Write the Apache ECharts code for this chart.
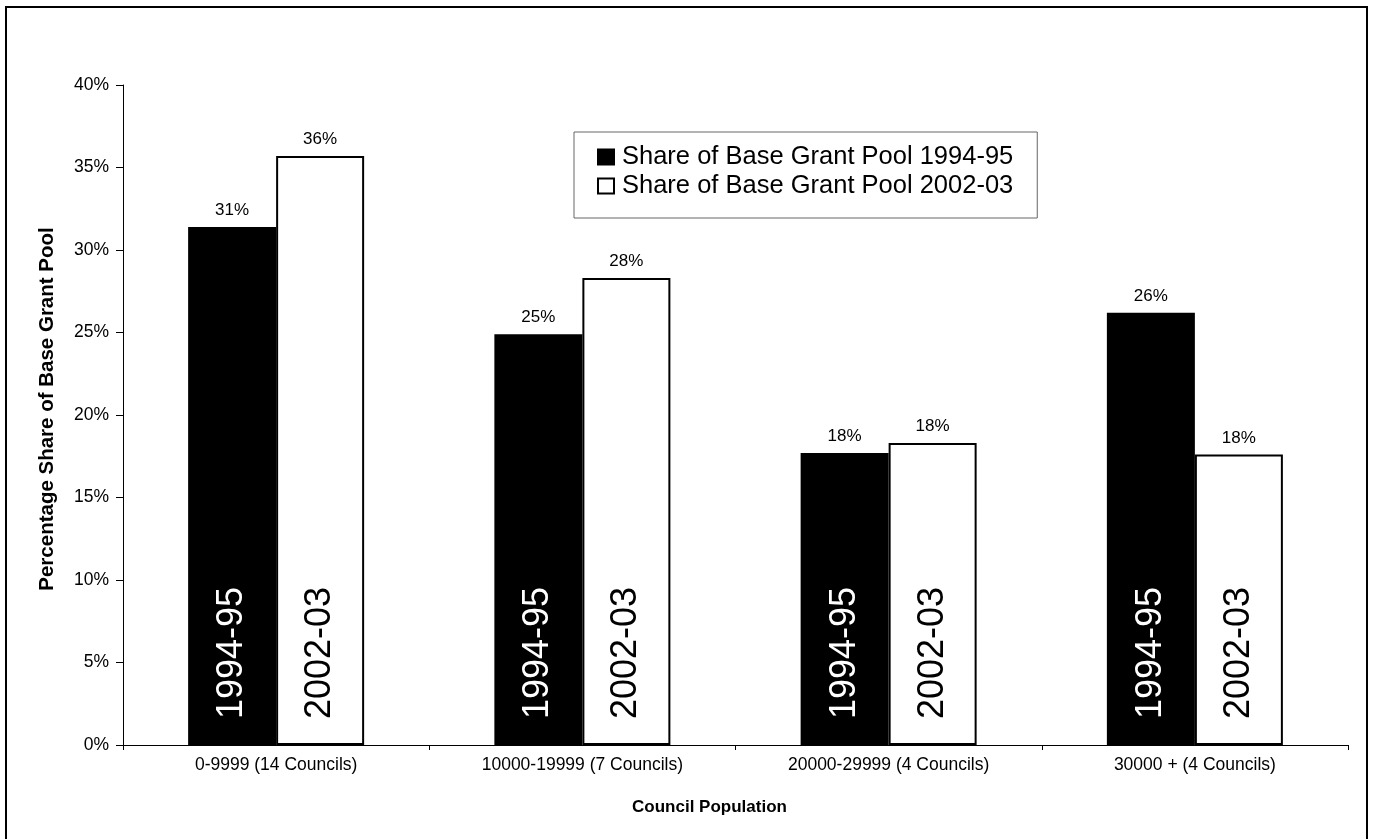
<!DOCTYPE html>
<html>
<head>
<meta charset="utf-8">
<script src="https://cdn.jsdelivr.net/npm/echarts@6/dist/echarts.min.js"></script>
<style>
  html, body { margin: 0; padding: 0; background: #fff; }
  #chart { width: 1374px; height: 839px; }
</style>
</head>
<body>
<div id="chart"></div>
<script>
// ---- data ----
const categories = ['0-9999 (14 Councils)', '10000-19999 (7 Councils)', '20000-29999 (4 Councils)', '30000 + (4 Councils)'];
const seriesNames = ['Share of Base Grant Pool 1994-95', 'Share of Base Grant Pool 2002-03'];
const seriesYears = ['1994-95', '2002-03'];
const share1994 = [31.4, 24.9, 17.7, 26.2];
const share2002 = [35.7, 28.3, 18.3, 17.6];
const yTicks = [0, 5, 10, 15, 20, 25, 30, 35, 40];

const FONT = "'Liberation Sans', Arial, sans-serif";
const chart = echarts.init(document.getElementById('chart'), null, { renderer: 'canvas' });

function mainSeries(name, year, values, fill, textColor, stackId) {
  return {
    name: name,
    type: 'bar',
    stack: stackId,
    data: values,
    barWidth: 88,
    barGap: '0%',
    itemStyle: { color: fill, borderColor: '#000', borderWidth: 2 },
    label: {
      show: true,
      position: 'insideBottom',
      distance: 26,
      rotate: 90,
      align: 'left',
      verticalAlign: 'middle',
      formatter: () => year,
      color: textColor,
      fontFamily: FONT,
      fontSize: 36
    },
    emphasis: { disabled: true }
  };
}
function topLabelSeries(values, stackId) {
  return {
    name: 'lbl-' + stackId,
    type: 'bar',
    stack: stackId,
    data: values.map(() => 0),
    barWidth: 88,
    barGap: '0%',
    itemStyle: { color: 'transparent', borderWidth: 0 },
    label: {
      show: true,
      position: 'top',
      distance: 8,
      formatter: (p) => Math.round(values[p.dataIndex]) + '%',
      color: '#000',
      fontFamily: FONT,
      fontSize: 17
    },
    emphasis: { disabled: true },
    silent: true
  };
}

const option = {
  backgroundColor: '#fff',
  animation: false,
  grid: { left: 123, right: 26, top: 85, bottom: 94, containLabel: false },
  legend: {
    data: seriesNames,
    orient: 'vertical',
    left: 574,
    top: 132,
    itemWidth: 16,
    itemHeight: 15,
    itemGap: 3,
    icon: 'rect',
    padding: [12, 24, 19, 23],
    borderColor: '#666',
    borderWidth: 1,
    textStyle: { fontFamily: FONT, fontSize: 25.5, color: '#000', padding: [0, 0, 0, 3] },
    selectedMode: false
  },
  xAxis: {
    type: 'category',
    data: categories,
    name: 'Council Population',
    nameLocation: 'middle',
    nameGap: 54,
    nameTextStyle: { fontFamily: FONT, fontSize: 17, fontWeight: 'bold', color: '#000', padding: [0, 52, 0, 0] },
    axisLine: { lineStyle: { color: '#000', width: 1 } },
    axisTick: { show: true, length: 5, alignWithLabel: false, lineStyle: { color: '#000' } },
    axisLabel: { fontFamily: FONT, fontSize: 17.5, color: '#000', margin: 11 }
  },
  yAxis: {
    type: 'value',
    min: yTicks[0],
    max: yTicks[yTicks.length - 1],
    interval: yTicks[1] - yTicks[0],
    name: 'Percentage Share of Base Grant Pool',
    nameLocation: 'middle',
    nameGap: 65,
    nameTextStyle: { fontFamily: FONT, fontSize: 20.5, fontWeight: 'bold', color: '#000', padding: [0, 0, 0, 12] },
    axisLine: { show: true, lineStyle: { color: '#000', width: 1 } },
    axisTick: { show: true, length: 7, lineStyle: { color: '#000' } },
    splitLine: { show: false },
    axisLabel: { fontFamily: FONT, fontSize: 17.5, color: '#000', margin: 14, formatter: '{value}%' }
  },
  series: [
    mainSeries(seriesNames[0], seriesYears[0], share1994, '#000', '#fff', 's1994'),
    topLabelSeries(share1994, 's1994'),
    mainSeries(seriesNames[1], seriesYears[1], share2002, '#fff', '#000', 's2002'),
    topLabelSeries(share2002, 's2002')
  ],
  graphic: [
    {
      type: 'rect',
      shape: { x: 6, y: 7, width: 1361, height: 860 },
      style: { fill: 'none', stroke: '#000', lineWidth: 2 },
      silent: true,
      z: 100
    }
  ]
};
chart.setOption(option);
</script>
</body>
</html>
